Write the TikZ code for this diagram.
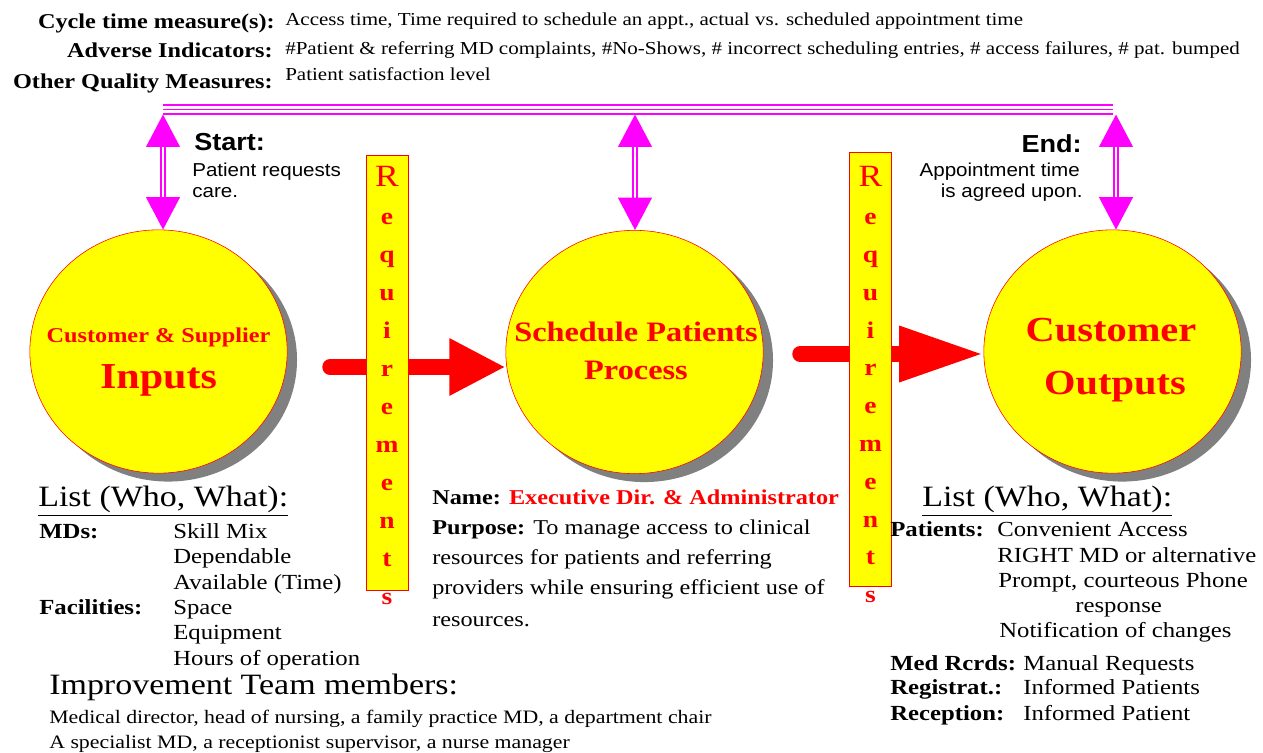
\documentclass[tikz,border=0pt]{standalone}
\usepackage{fontspec}
\setmainfont{Liberation Serif}[FakeStretch=1.15]
\newfontfamily\arialfont{Liberation Sans}[FakeStretch=1.1]
\usetikzlibrary{shapes.geometric, arrows.meta, shadows}

\definecolor{bubyellow}{RGB}{255,255,0}
\definecolor{bubred}{RGB}{255,0,0}
\definecolor{linkpink}{RGB}{255,0,255}
\definecolor{shadegray}{RGB}{128,128,128}
\newcommand{\fsz}[1]{\fontsize{#1}{#1}\selectfont}

\begin{document}
\begin{tikzpicture}[x=0.025cm, y=-0.025cm, inner sep=0pt,
  toplbl/.style={anchor=base east, font=\bfseries\fsz{15}},
  toptxt/.style={anchor=base west, font=\fsz{13}},
  head/.style={anchor=base west, font=\fsz{21}},
  item/.style={anchor=base west, font=\fsz{15.3}},
  itemlbl/.style={anchor=base west, font=\bfseries\fsz{15.3}},
  midtxt/.style={anchor=base west, font=\fsz{15}},
  team/.style={anchor=base west, font=\fsz{13.5}},
  sanshead/.style={font=\arialfont\bfseries\fsz{17.5}},
  sanstxt/.style={font=\arialfont\fsz{13.3}},
  bubble/.style={ellipse, draw=bubred, fill=bubyellow, minimum width=183pt, minimum height=173pt,
    drop shadow={shadow xshift=7pt, shadow yshift=-6pt, fill=shadegray, opacity=1}},
  bubtext/.style={anchor=base, text=bubred},
  reqbar/.style={draw=bubred, fill=bubyellow, minimum width=30pt, minimum height=309pt},
  reqchar/.style={anchor=base, text=bubred, font=\bfseries\fsz{17}},
  bigarrow/.style={draw=bubred, line width=11pt, line cap=round, -{Triangle[length=40pt,width=38pt]}},
  link/.style={draw=linkpink, line width=1.1pt},
  linkarrow/.style={draw=linkpink, line width=1pt, double=white, double distance=2pt,
    {Triangle[length=23pt,width=24pt]}-{Triangle[length=23pt,width=24pt]}}]
\useasboundingbox (0,0) rectangle (1263,753);

\node (cyc) [toplbl] at (275,29) {Cycle time measure(s):};
\node (adv) [toplbl] at (273,58) {Adverse Indicators:};
\node (oqm) [toplbl] at (273,89) {Other Quality Measures:};
\node (cyctxt) [toptxt] at (285,26) {Access time, Time required to schedule an appt., actual vs. scheduled appointment time};
\node (advtxt) [toptxt] at (285,55) {\#Patient \& referring MD complaints, \#No-Shows, \# incorrect scheduling entries, \# access failures, \# pat. bumped};
\node (oqmtxt) [toptxt] at (285,81) {Patient satisfaction level};

\node (inp) [bubble] at (158.5,351.5) {};
\node (proc) [bubble] at (634.5,352) {};
\node (outp) [bubble] at (1112.5,351.5) {};
\node (inp1) [bubtext, font=\bfseries\fsz{15}] at (158.5,343) {Customer \& Supplier};
\node (inp2) [bubtext, font=\bfseries\fsz{26}] at (158.5,389) {Inputs};
\node (proc1) [bubtext, font=\bfseries\fsz{20}] at (636,342) {Schedule Patients};
\node (proc2) [bubtext, font=\bfseries\fsz{20}] at (636,380) {Process};
\node (outp1) [bubtext, font=\bfseries\fsz{25}] at (1111,342) {Customer};
\node (outp2) [bubtext, font=\bfseries\fsz{25}] at (1115,395) {Outputs};

\coordinate (barL) at (163,109.5);
\coordinate (barM) at (635,109.5);
\coordinate (barR) at (1116,109.5);
\foreach \dy in {-3.2,0,3.2}
  \draw[link] ([yshift=\dy pt]barL) -- ([yshift=\dy pt, xshift=-2pt]barR);
\draw[linkarrow] ([yshift=-3.6pt]barL) -- (barL |- inp.north);
\draw[linkarrow] ([yshift=-3.6pt]barM) -- (barM |- proc.north);
\draw[linkarrow] ([yshift=-3.6pt]barR) -- (barR |- outp.north);

\node (st) [sanshead, anchor=base west] at (194,151) {Start:};
\node (st1) [sanstxt, anchor=base west] at (192,177) {Patient requests};
\node (st2) [sanstxt, anchor=base west] at (192,198) {care.};
\node (en) [sanshead, anchor=base east] at (1082,153) {End:};
\node (en1) [sanstxt, anchor=base east] at (1080,177) {Appointment time};
\node (en2) [sanstxt, anchor=base east] at (1083,198) {is agreed upon.};

\coordinate (a1) at (330,367);
\coordinate (a2) at (800,354);
\draw[bigarrow] (a1) -- (proc.west |- a1);
\draw[bigarrow, -{Triangle[length=60pt,width=37pt]}] (a2) -- (outp.west |- a2);

\node (req1) [reqbar] at (387,373) {};
\node (req2) [reqbar] at (870.5,369.5) {};
\node (req1R) [reqchar, font=\fsz{22}] at (387,187) {R};
\node (req2R) [reqchar, font=\fsz{22}] at (870.5,187) {R};
\foreach \ch [count=\k] in {e,q,u,i,r,e,m,e,n,t,s} {
  \node (req1c\k) [reqchar] at (387,{187+38*\k}) {\ch};
  \node (req2c\k) [reqchar] at (870.5,{187+37.8*\k}) {\ch};
}

\node (lsin) [head] at (38,507) {\underline{List (Who, What):}};
\node (mds) [itemlbl] at (39,539) {MDs:};
\node (mds1) [item] at (173,539) {Skill Mix};
\node (mds2) [item] at (173,564) {Dependable};
\node (mds3) [item] at (173,589) {Available (Time)};
\node (fac) [itemlbl] at (39,615) {Facilities:};
\node (fac1) [item] at (173,615) {Space};
\node (fac2) [item] at (173,640) {Equipment};
\node (fac3) [item] at (173,665) {Hours of operation};

\node (imp) [head] at (49,694) {Improvement Team members:};
\node (imp1) [team] at (49,723) {Medical director, head of nursing, a family practice MD, a department chair};
\node (imp2) [team] at (49,748) {A specialist MD, a receptionist supervisor, a nurse manager};

\node (nm) [midtxt] at (432,505) {\bfseries Name: \textcolor{bubred}{Executive Dir. \& Administrator}};
\node (pp1) [midtxt] at (432,535) {\textbf{Purpose:} To manage access to clinical};
\node (pp2) [midtxt] at (432,565) {resources for patients and referring};
\node (pp3) [midtxt] at (432,595) {providers while ensuring efficient use of};
\node (pp4) [midtxt] at (432,626) {resources.};

\node (lsout) [head] at (922,507) {\underline{List (Who, What):}};
\node (pat) [itemlbl] at (890,537) {Patients:};
\node (pat1) [item] at (997,537) {Convenient Access};
\node (pat2) [item] at (997,563) {RIGHT MD or alternative};
\node (pat3) [item] at (998,588) {Prompt, courteous Phone};
\node (pat4) [item] at (1075,612) {response};
\node (pat5) [item] at (999,638) {Notification of changes};
\node (mr) [itemlbl] at (890,670) {Med Rcrds:};
\node (mr1) [item] at (1023,670) {Manual Requests};
\node (rg) [itemlbl] at (890,694) {Registrat.:};
\node (rg1) [item] at (1023,694) {Informed Patients};
\node (rc) [itemlbl] at (890,720) {Reception:};
\node (rc1) [item] at (1023,720) {Informed Patient};
\end{tikzpicture}
\end{document}
